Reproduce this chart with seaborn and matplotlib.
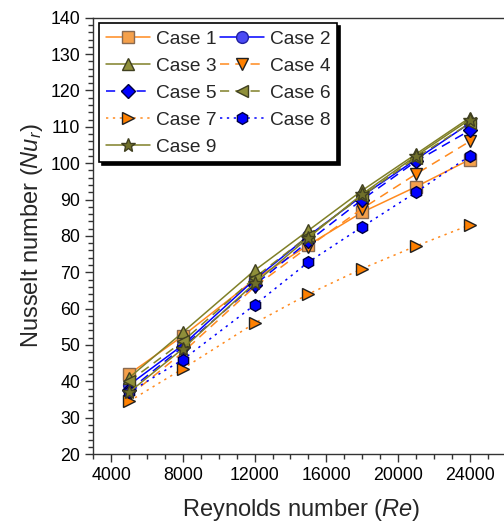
import matplotlib
matplotlib.use("Agg")
import matplotlib.pyplot as plt
import seaborn as sns
import numpy as np
from matplotlib.ticker import MultipleLocator

re_vals = [5000, 8000, 12000, 15000, 18000, 21000, 24000]
case1 = [42.0, 52.5, 68.0, 77.5, 86.5, 93.5, 101.0]
case2 = [39.0, 50.0, 68.0, 80.0, 91.0, 101.0, 111.0]
case3 = [41.0, 53.5, 70.5, 81.5, 92.5, 102.5, 112.5]
case4 = [36.0, 48.0, 66.0, 77.0, 87.5, 97.0, 106.0]
case5 = [37.5, 49.5, 66.5, 78.5, 90.0, 100.5, 109.0]
case6 = [40.0, 51.0, 68.5, 80.0, 91.0, 101.5, 111.0]
case7 = [34.5, 43.5, 56.0, 64.0, 71.0, 77.2, 83.0]
case8 = [37.0, 46.0, 61.0, 72.8, 82.5, 92.0, 102.0]
case9 = [37.0, 49.0, 67.0, 79.5, 91.5, 102.0, 112.0]
labels = ["Case 1", "Case 2", "Case 3", "Case 4", "Case 5", "Case 6", "Case 7", "Case 8", "Case 9"]

sns.set_style("ticks")
plt.rcParams['font.family'] = ['Liberation Sans', 'DejaVu Sans']
plt.rcParams['mathtext.fontset'] = 'custom'
plt.rcParams['mathtext.rm'] = 'Liberation Sans'
plt.rcParams['mathtext.it'] = 'Liberation Sans:italic'

orange = '#FF8A1E'
olive = '#808028'
olive_face = '#8F8F3A'
blue = '#0000FF'

styles = [
    dict(color=orange, ls='-', marker='s', mfc='#F5A04A', mec='#8A6A50'),
    dict(color=blue, ls='-', marker='o', mfc='#4A4AF5', mec='#2020A0'),
    dict(color=olive, ls='-', marker='^', mfc=olive_face, mec='#404020'),
    dict(color=orange, ls=(0, (6, 4)), marker='v', mfc='#FF8000', mec='#202020'),
    dict(color=blue, ls=(0, (6, 4)), marker='D', mfc='#0000FF', mec='#000040', ms=7),
    dict(color=olive, ls=(0, (6, 4)), marker='<', mfc=olive_face, mec='#404020'),
    dict(color=orange, ls=(0, (1.5, 3)), marker='>', mfc='#FF8000', mec='#202020'),
    dict(color=blue, ls=(0, (1.5, 3)), marker='h', mfc='#0000FF', mec='#000040'),
    dict(color=olive, ls='-', marker='*', mfc='#70702A', mec='#404020', ms=10),
]
series = [case1, case2, case3, case4, case5, case6, case7, case8, case9]

fig = plt.figure(figsize=(5.04, 5.28), dpi=100)
ax = fig.add_axes([0.185, 0.14, 0.8268, 0.8265])

for lab, ys, st in zip(labels, series, styles):
    st = dict(st)
    ms = st.pop('ms', 8.5)
    sns.lineplot(x=re_vals, y=ys, ax=ax, label=lab, color=st['color'],
                 linestyle=st['ls'], marker=st['marker'], markersize=ms,
                 markerfacecolor=st['mfc'], markeredgecolor=st['mec'],
                 markeredgewidth=1.0, linewidth=1.1, legend=False)

ax.set_xlim(3000, 26240)
ax.set_ylim(20, 140)
ax.xaxis.set_major_locator(MultipleLocator(4000))
ax.xaxis.set_minor_locator(MultipleLocator(1000))
ax.yaxis.set_major_locator(MultipleLocator(10))
ax.yaxis.set_minor_locator(MultipleLocator(2))
ax.set_xticks([4000, 8000, 12000, 16000, 20000, 24000])
ax.tick_params(axis='both', which='major', labelsize=12.8, length=6, width=1, direction='out', colors='#333333', labelcolor='black')
ax.tick_params(axis='both', which='minor', length=3.5, width=1, direction='out', colors='#333333')
for sp in ['left', 'bottom', 'top', 'right']:
    ax.spines[sp].set_color('#333333')
    ax.spines[sp].set_linewidth(1.0)

ax.set_xlabel(r'Reynolds number ($\mathit{Re}$)', fontsize=17, labelpad=9)
ax.set_ylabel(r'Nusselt number ($\mathit{Nu_r}$)', fontsize=17, labelpad=4)

handles, labs = ax.get_legend_handles_labels()
# row-wise ordering in a 2-column legend
order = [0, 2, 4, 6, 8, 1, 3, 5, 7]
handles = [handles[i] for i in order]
labs = [labs[i] for i in order]
leg = ax.legend(handles, labs, ncol=2, loc='upper left', bbox_to_anchor=(0.0, 1.0),
                fontsize=13.8, frameon=True, fancybox=False,
                shadow={'color': 'black', 'alpha': 1.0, 'ox': 2, 'oy': -2},
                handlelength=2.3, handletextpad=0.3, columnspacing=0.2,
                labelspacing=0.5, borderpad=0.35, borderaxespad=0.3)
leg.get_frame().set_edgecolor('black')
leg.get_frame().set_linewidth(1.2)
leg.get_frame().set_alpha(1.0)

fig.savefig('out.png', dpi=100)
